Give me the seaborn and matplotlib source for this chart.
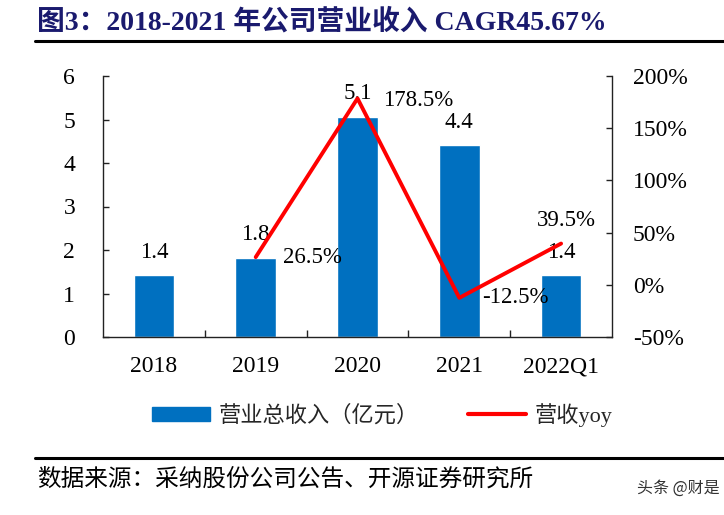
import numpy as np
import pandas as pd
import matplotlib
matplotlib.use("Agg")
import matplotlib.pyplot as plt
from matplotlib.patches import Patch
from matplotlib.lines import Line2D
from matplotlib.ticker import FuncFormatter, MultipleLocator, FixedLocator
import seaborn as sns

categories = ["2018", "2019", "2020", "2021", "2022Q1"]
revenue = [1.42, 1.82, 5.06, 4.41, 1.42]  # 亿元
yoy_categories = ["2019", "2020", "2021", "2022Q1"]
yoy = [26.5, 178.5, -12.5, 39.5]  # %
left_ticks = [0, 1, 2, 3, 4, 5, 6]
right_ticks = [-50, 0, 50, 100, 150, 200]

title = "图3：2018-2021 年公司营业收入 CAGR45.67%"
source = "数据来源：采纳股份公司公告、开源证券研究所"
legend_labels = ["营业总收入（亿元）", "营收yoy"]
watermark = "头条 @财是"

sns.set_theme(style="ticks")
SERIF = ["Liberation Serif", "Noto Sans CJK SC"]
plt.rcParams["font.family"] = SERIF
plt.rcParams["axes.unicode_minus"] = False

BLUE = "#0070C0"
RED = "#FF0000"

fig = plt.figure(figsize=(7.24, 5.15), dpi=100)
ax = fig.add_axes([103 / 724, 1 - 337 / 515, (612 - 103) / 724, (337 - 76) / 515])

df = pd.DataFrame({"cat": categories, "rev": revenue})
sns.barplot(data=df, x="cat", y="rev", color=BLUE, saturation=1, width=0.4, ax=ax)
ax.set_xlim(-0.5, len(categories) - 0.5)
ax.set_ylim(0, 6)
ax.yaxis.set_major_locator(FixedLocator(left_ticks))
ax.set_xlabel("")
ax.set_ylabel("")
for c in ax.containers:
    ax.bar_label(c, fmt="%.1f", padding=9, fontsize=16.5, color="black")

ax2 = ax.twinx()
ypos = [categories.index(c) for c in yoy_categories]
sns.lineplot(x=ypos, y=yoy, color=RED, lw=2.8, ax=ax2)
ax2.set_ylim(-50, 200)
ax2.yaxis.set_major_locator(FixedLocator(right_ticks))
ax2.yaxis.set_major_formatter(FuncFormatter(lambda v, p: f"{v:.0f}%"))
ax2.set_xlim(-0.5, len(categories) - 0.5)

offsets = [(27, 0, "left", "center"), (26, -2, "left", "center"),
           (23, 0, "left", "center"), (5, 23, "center", "center")]
for x, v, (dx, dy, ha, va) in zip(ypos, yoy, offsets):
    ax2.annotate(f"{v:.1f}%", (x, v), xytext=(dx, dy), textcoords="offset pixels",
                 ha=ha, va=va, fontsize=16.5, color="black")

# spines and ticks
for a in (ax, ax2):
    a.spines["top"].set_visible(False)
    for s in a.spines.values():
        s.set_color("#222222")
        s.set_linewidth(1.0)
ax.spines["right"].set_visible(False)
ax2.spines["left"].set_visible(False)
ax2.spines["bottom"].set_visible(False)

ax.tick_params(axis="y", direction="in", length=4, width=1, labelsize=17, pad=20, colors="#222222", labelcolor="black")
ax.tick_params(axis="x", which="major", length=0, labelsize=17, pad=14, labelcolor="black")
ax.xaxis.set_minor_locator(FixedLocator([0.5, 1.5, 2.5, 3.5]))
ax.tick_params(axis="x", which="minor", direction="in", length=5, width=1, colors="#222222")
ax2.tick_params(axis="y", direction="in", length=4, width=1, labelsize=17, pad=15, colors="#222222", labelcolor="black")

# legend
handles = [Patch(facecolor=BLUE, edgecolor=BLUE),
           Line2D([0], [0], color=RED, lw=3)]
fig.legend(handles, legend_labels, loc="center", bbox_to_anchor=(0.528, 1 - 415 / 515),
           ncol=2, frameon=False, prop={"family": SERIF, "size": 16},
           handlelength=2.6, handleheight=0.6, columnspacing=2.2, handletextpad=0.4)

# title and lines
fig.text(37 / 724, 1 - 22 / 515, title, fontsize=20, fontweight="bold", color="#1a1a6e",
         ha="left", va="center", family=SERIF)
fig.add_artist(Line2D([35 / 724, 1.0], [1 - 41 / 515] * 2, color="black", lw=2.2))
fig.add_artist(Line2D([35 / 724, 1.0], [1 - 458 / 515] * 2, color="black", lw=2.2))
fig.text(37 / 724, 1 - 479 / 515, source, fontsize=17, color="black",
         ha="left", va="center", family=["Noto Sans CJK SC", "DejaVu Sans"])
fig.text(720 / 724, 1 - 488 / 515, watermark, fontsize=11.5, color="#333333",
         ha="right", va="center", family=["Noto Sans CJK SC", "DejaVu Sans"])

fig.savefig("out.png", dpi=100)
